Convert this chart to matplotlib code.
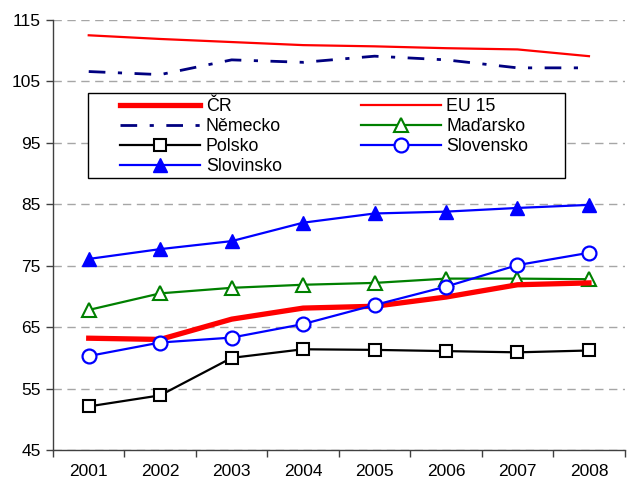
import numpy as np
import matplotlib.pyplot as plt
from matplotlib.patches import Rectangle

plt.rcParams['font.family'] = ['Liberation Sans', 'DejaVu Sans']

years = ['2001', '2002', '2003', '2004', '2005', '2006', '2007', '2008']

cr = [63.2, 63.0, 66.3, 68.1, 68.4, 69.9, 71.9, 72.2]
eu15 = [112.5, 111.9, 111.4, 110.9, 110.7, 110.4, 110.2, 109.1]
nemecko = [106.6, 106.1, 108.5, 108.1, 109.1, 108.5, 107.2, 107.2]
madarsko = [67.8, 70.5, 71.4, 71.9, 72.2, 72.9, 72.9, 72.8]
polsko = [52.1, 53.9, 60.0, 61.4, 61.3, 61.1, 60.9, 61.2]
slovensko = [60.3, 62.5, 63.3, 65.5, 68.6, 71.6, 75.1, 77.1]
slovinsko = [76.1, 77.7, 79.0, 82.0, 83.5, 83.8, 84.4, 84.9]

x = np.arange(len(years))

fig = plt.figure(figsize=(6.31, 4.86), dpi=100)
ax = fig.add_axes([0.084, 0.074, 0.906, 0.885])

ax.plot(x, eu15, color='#ff0000', lw=1.6, label='EU 15', zorder=3)
ax.plot(x, nemecko, color='#000080', lw=2.0, linestyle=(0, (6, 4.5, 1.5, 4.5)),
        label='Německo', zorder=3)
ax.plot(x, slovinsko, color='#0000ff', lw=1.6, marker='^', ms=10,
        mfc='#0000ff', mec='#0000ff', label='Slovinsko', zorder=4)
ax.plot(x, madarsko, color='#008000', lw=1.6, marker='^', ms=10,
        mfc='white', mec='#008000', mew=1.5, label='Maďarsko', zorder=4)
ax.plot(x, cr, color='#ff0000', lw=3.8, label='ČR', zorder=4)
ax.plot(x, slovensko, color='#0000ff', lw=1.6, marker='o', ms=10,
        mfc='white', mec='#0000ff', mew=1.6, label='Slovensko', zorder=5)
ax.plot(x, polsko, color='black', lw=1.6, marker='s', ms=8.5,
        mfc='white', mec='black', mew=1.5, label='Polsko', zorder=5)

ax.set_xlim(-0.5, len(years) - 0.5)
ax.set_ylim(45, 115)
ax.set_yticks(np.arange(45, 116, 10))
ax.set_xticks(x)
ax.set_xticklabels(years)
ax.set_xticks(np.arange(-0.5, len(years), 1), minor=True)
ax.tick_params(axis='x', which='major', length=0, pad=10, labelsize=12.5)
ax.tick_params(axis='x', which='minor', length=5, width=1, color='#404040')
ax.tick_params(axis='y', length=5, width=1, color='#404040', labelsize=12.5, pad=4)

ax.grid(axis='y', color='#a6a6a6', linestyle=(0, (6, 4)), lw=1)
ax.set_axisbelow(True)
for s in ['top', 'right']:
    ax.spines[s].set_visible(False)
for s in ['left', 'bottom']:
    ax.spines[s].set_color('#404040')
    ax.spines[s].set_linewidth(1)

# legend frame drawn as a patch, legend itself without frame
ax.add_patch(Rectangle((0.061, 0.633), 0.834, 0.198, transform=ax.transAxes,
                       facecolor='white', edgecolor='black', lw=1, zorder=6))
h, l = ax.get_legend_handles_labels()
order = ['ČR', 'Německo', 'Polsko', 'Slovinsko', 'EU 15', 'Maďarsko', 'Slovensko']
hd = dict(zip(l, h))
leg = ax.legend([hd[k] for k in order], order, ncol=2, loc='upper left',
                bbox_to_anchor=(0.118, 0.818), frameon=False, fontsize=12.8,
                handlelength=4.5, handletextpad=0.3, columnspacing=4.45,
                labelspacing=0.16, borderpad=0, borderaxespad=0)
leg.set_zorder(7)

plt.savefig('out.png', dpi=100)
